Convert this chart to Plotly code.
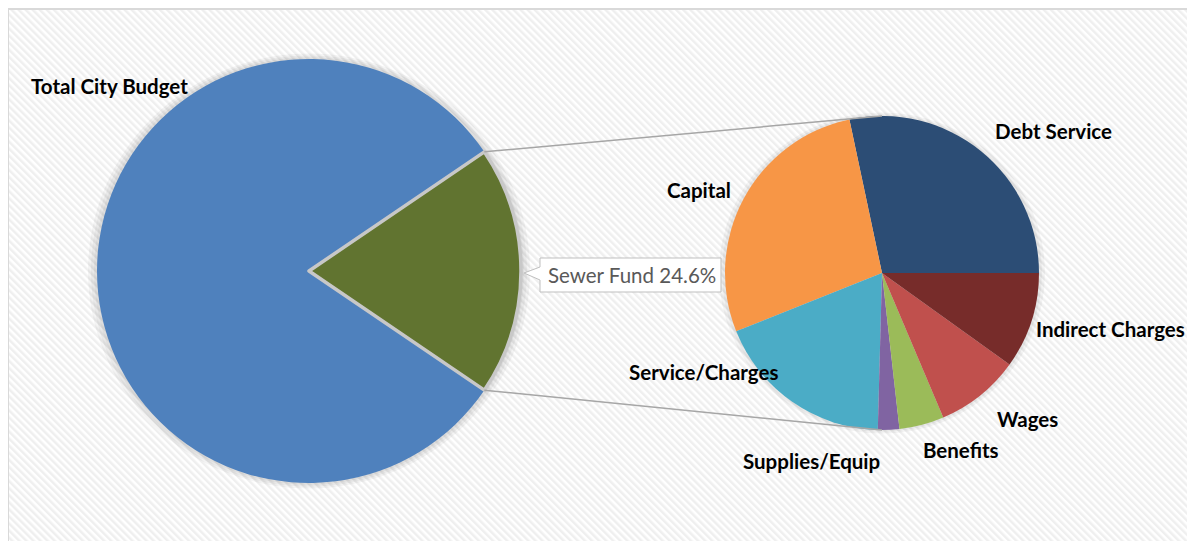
import base64
import math
import plotly.graph_objects as go

# ---------------- data ----------------
main_labels = ["Total City Budget", "Sewer Fund"]
main_values = [81.0, 19.0]          # share of the slice as drawn
sewer_label_text = "Sewer Fund 24.6%"

sub_labels = ["Debt Service", "Capital", "Service/Charges", "Supplies/Equip",
              "Benefits", "Wages", "Indirect Charges"]
sub_values = [28.3, 27.7, 18.5, 2.2, 4.6, 8.7, 9.9]

# ---------------- styling / layout ----------------
OFF = 8                      # default page body margin
W, H = 1195 - OFF, 541 - OFF  # figure size
main_colors = ["#4F81BD", "#617430"]
sub_colors = ["#2C4D75", "#F79646", "#4BACC6", "#8064A2", "#9BBB59", "#C0504D", "#772C2A"]

# pie geometry in page pixels (center x, center y, radius)
cxL, cyL, rL = 309, 271, 212
cxR, cyR, rR = 882, 273, 157

# label centers in page pixels
sub_label_pos = [(1053, 131), (699, 190), (703, 372), (811, 461),
                 (961, 450), (1027, 419), (1110, 329)]
main_label_pos = (109, 86)


def px(x):
    return (x - OFF) / W


def py(y):
    return 1 - (y - OFF) / H


FONT = "Lato, Calibri, Carlito, sans-serif"
LABEL_SIZE = 20.5

# background pattern (diagonal stripes) as inline SVG
svg = (
    f"<svg xmlns='http://www.w3.org/2000/svg' width='{W}' height='{H}'>"
    "<defs><pattern id='p' width='5' height='5' patternUnits='userSpaceOnUse' "
    "patternTransform='rotate(-45)'>"
    "<rect width='5' height='5' fill='#ffffff'/>"
    "<rect width='2.5' height='5' fill='#efefef'/></pattern></defs>"
    f"<rect x='0' y='0' width='{W}' height='{H}' fill='#ffffff'/>"
    f"<rect x='0' y='1' width='{W + 10}' height='{H + 10}' fill='url(#p)' "
    "stroke='#d9d9d9' stroke-width='2'/>"
    "</svg>"
)
bg_src = "data:image/svg+xml;base64," + base64.b64encode(svg.encode()).decode()

fig = go.Figure()

green_frac = main_values[1] / sum(main_values)
half_ang = green_frac * 180.0
# plotly (counterclockwise): the first slice ends (ccw) at the rotation point
rot_main = 90 + half_ang
rot_sub = 90 - sub_values[0] / sum(sub_values) * 360.0

fig.add_trace(go.Pie(
    labels=main_labels, values=main_values, sort=False,
    direction="counterclockwise", rotation=rot_main,
    marker=dict(colors=main_colors,
                line=dict(color=["rgba(0,0,0,0)", "#c8c8c8"], width=[0, 3.5])),
    textinfo="none", hoverinfo="label+percent", showlegend=False,
    domain=dict(x=[px(cxL - rL), px(cxL + rL)], y=[py(cyL + rL), py(cyL - rL)]),
))

fig.add_trace(go.Pie(
    labels=sub_labels, values=sub_values, sort=False,
    direction="counterclockwise", rotation=rot_sub,
    marker=dict(colors=sub_colors, line=dict(width=0)),
    textinfo="none", hoverinfo="label+percent", showlegend=False,
    domain=dict(x=[px(cxR - rR), px(cxR + rR)], y=[py(cyR + rR), py(cyR - rR)]),
))

shapes = []
# soft shadows behind pies
for cx, cy, r, steps in [(cxL, cyL, rL, [9, 6, 3]), (cxR, cyR, rR, [6, 3])]:
    for d in steps:
        shapes.append(dict(type="circle", xref="paper", yref="paper", layer="below",
                           x0=px(cx - r - d), x1=px(cx + r + d),
                           y0=py(cy + r + d * 0.6), y1=py(cy - r - d * 0.6),
                           fillcolor="rgba(0,0,0,0.045)", line=dict(width=0)))

# connector lines from the split slice to the second pie
a = math.radians(half_ang)
top_corner = (cxL + rL * math.cos(a), cyL - rL * math.sin(a))
bot_corner = (cxL + rL * math.cos(a), cyL + rL * math.sin(a))
for (x0, y0), (x1, y1) in [(top_corner, (cxR, cyR - rR)), (bot_corner, (cxR, cyR + rR))]:
    shapes.append(dict(type="line", xref="paper", yref="paper",
                       x0=px(x0), y0=py(y0), x1=px(x1), y1=py(y1),
                       line=dict(color="#a6a6a6", width=1.5)))

# callout box for the sewer fund label
bx0, bx1, by0, by1 = 540, 721, 258, 292
tip_x = cxL + rL + 3
path = (f"M {px(bx0)},{py(by0)} L {px(bx1)},{py(by0)} L {px(bx1)},{py(by1)} "
        f"L {px(bx0)},{py(by1)} L {px(bx0)},{py(280)} L {px(tip_x)},{py(cyL + 2)} "
        f"L {px(bx0)},{py(267)} Z")
shapes.append(dict(type="path", xref="paper", yref="paper", path=path,
                   fillcolor="white", line=dict(color="#bfbfbf", width=1)))

annotations = []


def add_label(text, x, y, size, color, bold=True):
    annotations.append(dict(x=px(x), y=py(y), xref="paper", yref="paper",
                            xanchor="center", yanchor="middle", showarrow=False,
                            text=("<b>" + text + "</b>") if bold else text,
                            font=dict(family=FONT, size=size, color=color)))


add_label(main_labels[0], main_label_pos[0], main_label_pos[1], LABEL_SIZE, "#000000")
for lab, (lx, ly) in zip(sub_labels, sub_label_pos):
    add_label(lab, lx, ly, LABEL_SIZE, "#000000")
add_label(sewer_label_text, (bx0 + bx1) / 2 + 1, (by0 + by1) / 2, 20.5, "#595959", bold=False)

fig.update_layout(
    width=W, height=H,
    margin=dict(l=0, r=0, t=0, b=0),
    paper_bgcolor="white", plot_bgcolor="white",
    shapes=shapes, annotations=annotations,
    images=[dict(source=bg_src, xref="paper", yref="paper", x=0, y=1,
                 sizex=1, sizey=1, xanchor="left", yanchor="top",
                 sizing="stretch", layer="below")],
)

fig.write_html("out.html")
